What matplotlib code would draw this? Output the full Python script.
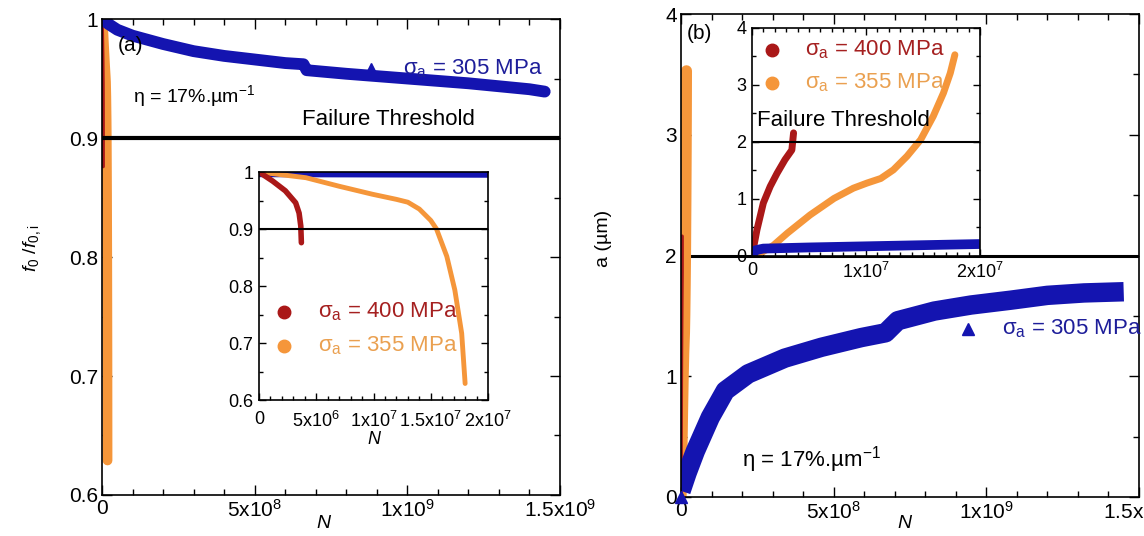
import matplotlib
matplotlib.use('Agg')
import matplotlib.pyplot as plt
from matplotlib.ticker import MultipleLocator

plt.rcParams['font.family'] = ['Liberation Sans', 'DejaVu Sans']
plt.rcParams['mathtext.fontset'] = 'custom'
plt.rcParams['mathtext.rm'] = 'Liberation Sans'
plt.rcParams['mathtext.it'] = 'Liberation Sans:italic'
plt.rcParams['mathtext.default'] = 'regular'
plt.rcParams['lines.solid_joinstyle'] = 'round'

BLUE = '#1414b0'
RED = '#aa1818'
ORANGE = '#f5963a'

# frequency ratio f0/f0,i vs cycles
n_305_f = [0, 2e7, 5e7, 1e8, 2e8, 3e8, 4e8, 5e8, 6e8, 6.6e8, 6.7e8, 8e8, 1e9, 1.2e9, 1.4e9, 1.45e9]
f_305 = [1.0, 0.996, 0.991, 0.986, 0.979, 0.973, 0.969, 0.966, 0.963, 0.962, 0.957, 0.954, 0.950, 0.946,
         0.941, 0.939]
n_400_f = [0, 1.2e6, 2.3e6, 3.2e6, 3.5e6, 3.65e6, 3.7e6]
f_400 = [1.0, 0.984, 0.967, 0.946, 0.928, 0.905, 0.876]
n_355_f = [0, 4.1e6, 7e6, 9.9e6, 1.2e7, 1.3e7, 1.4e7, 1.5e7, 1.55e7, 1.64e7, 1.71e7, 1.77e7, 1.8e7]
f_355 = [1.0, 0.99, 0.975, 0.961, 0.952, 0.947, 0.935, 0.915, 0.9, 0.852, 0.793, 0.717, 0.629]
n_305_f_inset = [0, 2e7]
f_305_inset = [0.997, 0.996]

# crack length a vs cycles
n_305_a = [0, 2e7, 4.7e7, 9.6e7, 1.45e8, 2.2e8, 3.4e8, 4.6e8, 5.9e8, 6.7e8, 7.1e8, 8.3e8, 9.5e8, 1.08e9,
           1.2e9, 1.32e9, 1.45e9]
a_305 = [0.05, 0.2, 0.38, 0.66, 0.88, 1.02, 1.15, 1.24, 1.32, 1.36, 1.46, 1.54, 1.59, 1.63, 1.67, 1.69, 1.70]
n_400_a = [0, 4.4e5, 1.0e6, 1.6e6, 2.2e6, 2.9e6, 3.5e6, 3.65e6]
a_400 = [0.0, 0.46, 0.93, 1.22, 1.45, 1.69, 1.86, 2.16]
n_355_a = [0, 1e6, 1.9e6, 3.1e6, 5.1e6, 7.2e6, 8.9e6, 1.01e7, 1.13e7, 1.24e7, 1.36e7, 1.48e7, 1.59e7, 1.68e7,
           1.74e7, 1.78e7]
a_355 = [0.0, 0.08, 0.19, 0.40, 0.72, 1.01, 1.19, 1.28, 1.36, 1.51, 1.75, 2.04, 2.45, 2.86, 3.21, 3.53]
n_305_a_inset = [0, 3e5, 1e6, 5e6, 1e7, 1.5e7, 2e7]
a_305_inset = [0.0, 0.1, 0.13, 0.15, 0.17, 0.19, 0.21]

big_ticks = [0, 5e8, 1e9, 1.5e9]
big_labels = ['0', '5x10$^8$', '1x10$^9$', '1.5x10$^9$']
small_ticks_a = [0, 5e6, 1e7, 1.5e7, 2e7]
small_labels_a = ['0', '5x10$^6$', '1x10$^7$', '1.5x10$^7$', '2x10$^7$']
small_ticks_b = [0, 1e7, 2e7]
small_labels_b = ['0', '1x10$^7$', '2x10$^7$']


def style(ax, size, major, minor, pad=4):
    ax.tick_params(which='both', direction='in', top=True, right=True, labelsize=size, pad=pad)
    ax.tick_params(which='major', length=major, width=1)
    ax.tick_params(which='minor', length=minor, width=1)
    for s in ax.spines.values():
        s.set_linewidth(1.2)


fig = plt.figure(figsize=(11.44, 5.36), dpi=100)

# ---- (a) frequency ratio
ax1 = fig.add_axes([0.0892, 0.0765, 0.4003, 0.888])
ax1.plot(n_355_f, f_355, color=ORANGE, lw=7, solid_capstyle='round')
ax1.plot(n_400_f, f_400, color=RED, lw=2.5, solid_capstyle='round')
ax1.plot(n_305_f, f_305, color=BLUE, lw=8.5, solid_capstyle='round')
ax1.axhline(0.9, color='black', lw=3, zorder=5)
ax1.set_xlim(0, 1.5e9)
ax1.set_ylim(0.6, 1.0)
ax1.set_xticks(big_ticks)
ax1.set_xticklabels(big_labels)
ax1.xaxis.set_minor_locator(MultipleLocator(1e8))
ax1.set_yticks([0.6, 0.7, 0.8, 0.9, 1.0])
ax1.set_yticklabels(['0.6', '0.7', '0.8', '0.9', '1'])
ax1.yaxis.set_minor_locator(MultipleLocator(0.05))
style(ax1, 15, 7, 4, pad=3)
ax1.set_xlabel('N', style='italic', fontsize=14)
ax1.xaxis.set_label_coords(0.483, -0.042)
ax1.set_ylabel(r'$\mathit{f}_0\ /\mathit{f}_{0,i}$', fontsize=14)
ax1.yaxis.set_label_coords(-0.129, 0.519)
ax1.text(0.035, 0.945, '(a)', transform=ax1.transAxes, fontsize=15, va='center', zorder=6)
ax1.text(0.068, 0.838, 'η = 17%.µm$^{-1}$', transform=ax1.transAxes, fontsize=14, va='center')
ax1.plot([0.587], [0.895], marker='^', color=BLUE, ms=9, transform=ax1.transAxes, clip_on=False)
ax1.text(0.657, 0.895, 'σ$_a$ = 305 MPa', transform=ax1.transAxes, fontsize=16, va='center',
         color='#1e1e9a', zorder=6)
ax1.text(0.437, 0.788, 'Failure Threshold', transform=ax1.transAxes, fontsize=16, va='center')

ins1 = fig.add_axes([0.2264, 0.2537, 0.2002, 0.4254])
ins1.plot(n_305_f_inset, f_305_inset, color=BLUE, lw=5, solid_capstyle='butt')
ins1.plot(n_355_f, f_355, color=ORANGE, lw=3.5, solid_capstyle='round')
ins1.plot(n_400_f, f_400, color=RED, lw=4, solid_capstyle='round')
ins1.axhline(0.9, color='black', lw=1.5)
ins1.set_xlim(0, 2e7)
ins1.set_ylim(0.6, 1.0)
ins1.set_xticks(small_ticks_a)
ins1.set_xticklabels(small_labels_a)
ins1.xaxis.set_minor_locator(MultipleLocator(1e6))
ins1.set_yticks([0.6, 0.7, 0.8, 0.9, 1.0])
ins1.set_yticklabels(['0.6', '0.7', '0.8', '0.9', '1'])
ins1.yaxis.set_minor_locator(MultipleLocator(0.05))
style(ins1, 13, 5, 3)
ins1.tick_params(axis='x', top=False, which='both', pad=8)
ins1.set_xlabel('N', style='italic', fontsize=13, labelpad=0)
ins1.plot([0.109], [0.386], marker='o', color=RED, ms=9, transform=ins1.transAxes)
ins1.plot([0.109], [0.237], marker='o', color=ORANGE, ms=9, transform=ins1.transAxes)
ins1.text(0.258, 0.386, 'σ$_a$ = 400 MPa', transform=ins1.transAxes, fontsize=16, va='center', color='#a52020')
ins1.text(0.258, 0.237, 'σ$_a$ = 355 MPa', transform=ins1.transAxes, fontsize=16, va='center', color='#eaa050')

# ---- (b) crack length
ax2 = fig.add_axes([0.5953, 0.0728, 0.4003, 0.901])
ax2.axhline(2, color='black', lw=2.2)
ax2.plot(n_355_a, a_355, color=ORANGE, lw=8, solid_capstyle='round')
ax2.plot(n_400_a, a_400, color=RED, lw=2.5, solid_capstyle='round')
ax2.plot(n_305_a, a_305, color=BLUE, lw=14, solid_capstyle='butt')
ax2.plot([0], [0], marker='^', color=BLUE, ms=9, clip_on=False, zorder=6)
ax2.set_xlim(0, 1.5e9)
ax2.set_ylim(0, 4)
ax2.set_xticks(big_ticks)
ax2.set_xticklabels(big_labels)
ax2.xaxis.set_minor_locator(MultipleLocator(1e8))
ax2.set_yticks([0, 1, 2, 3, 4])
ax2.yaxis.set_minor_locator(MultipleLocator(0.5))
style(ax2, 15, 7, 4, pad=3)
ax2.set_xlabel('N', style='italic', fontsize=14)
ax2.xaxis.set_label_coords(0.489, -0.037)
ax2.set_ylabel('a (µm)', fontsize=14)
ax2.yaxis.set_label_coords(-0.151, 0.536)
ax2.text(0.013, 0.96, '(b)', transform=ax2.transAxes, fontsize=15, va='center')
ax2.text(0.133, 0.077, 'η = 17%.µm$^{-1}$', transform=ax2.transAxes, fontsize=16, va='center')
ax2.plot([0.627], [0.348], marker='^', color=BLUE, ms=9, transform=ax2.transAxes)
ax2.text(0.70, 0.348, 'σ$_a$ = 305 MPa', transform=ax2.transAxes, fontsize=16, va='center', color='#1e1e9a')

ins2 = fig.add_axes([0.6573, 0.5224, 0.1993, 0.4254])
ins2.plot(n_400_a, a_400, color=RED, lw=5, solid_capstyle='round')
ins2.plot(n_355_a, a_355, color=ORANGE, lw=5, solid_capstyle='round')
ins2.plot(n_305_a_inset, a_305_inset, color=BLUE, lw=7, solid_capstyle='butt')
ins2.axhline(2, color='black', lw=1.5)
ins2.set_xlim(0, 2e7)
ins2.set_ylim(0, 4)
ins2.set_xticks(small_ticks_b)
ins2.set_xticklabels(small_labels_b)
ins2.xaxis.set_minor_locator(MultipleLocator(1e6))
ins2.set_yticks([0, 1, 2, 3, 4])
ins2.yaxis.set_minor_locator(MultipleLocator(0.5))
style(ins2, 13, 5, 3)
ins2.plot([0.088], [0.904], marker='o', color=RED, ms=9, transform=ins2.transAxes)
ins2.plot([0.088], [0.759], marker='o', color=ORANGE, ms=9, transform=ins2.transAxes)
ins2.text(0.232, 0.904, 'σ$_a$ = 400 MPa', transform=ins2.transAxes, fontsize=16, va='center', color='#a52020')
ins2.text(0.232, 0.759, 'σ$_a$ = 355 MPa', transform=ins2.transAxes, fontsize=16, va='center', color='#eaa050')
ins2.text(0.022, 0.596, 'Failure Threshold', transform=ins2.transAxes, fontsize=16, va='center')

fig.savefig('out.png', dpi=100)
